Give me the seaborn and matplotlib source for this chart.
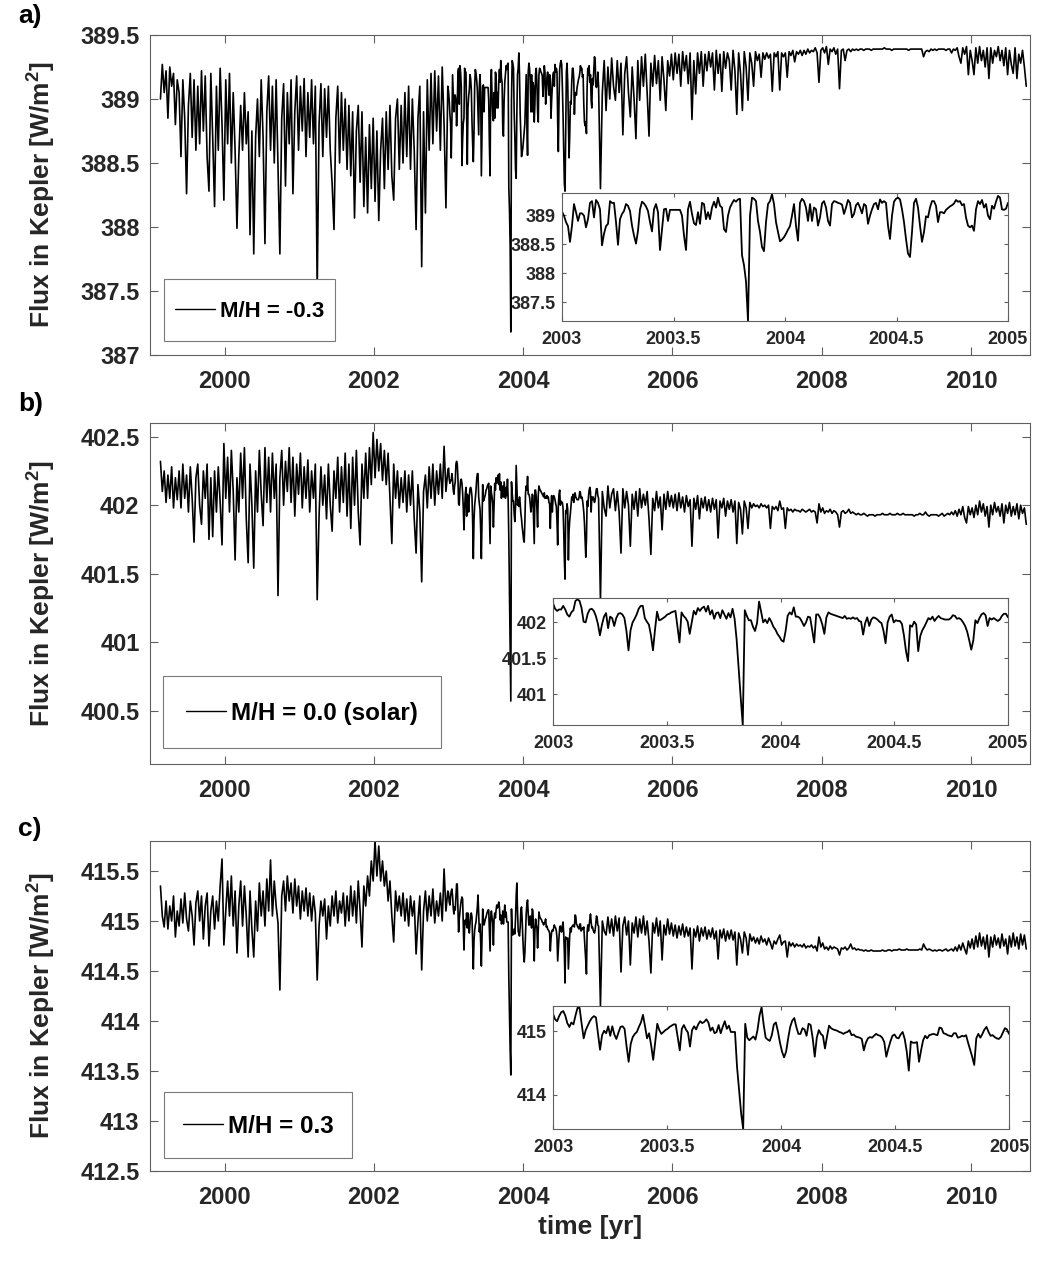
import numpy as np
import seaborn as sns
import matplotlib
matplotlib.use("Agg")
import matplotlib.pyplot as plt
from matplotlib.ticker import FuncFormatter

#### Flux values (W/m^2)
# each series = early part (1999.14-2002.99), zoomed part (2003-2005), late part (2005.01-2010.74)

# a) M/H = -0.3
a_early = [389.00, 389.27, 389.05, 389.22, 388.85, 389.25, 389.10, 389.20, 388.80, 389.15,
           389.05, 388.55, 389.15, 388.85, 388.26, 388.95, 389.20, 388.70, 389.15, 388.60,
           389.10, 388.65, 389.22, 388.75, 389.18, 388.55, 388.28, 389.20, 388.70, 388.16,
           389.10, 388.60, 389.24, 388.80, 388.21, 389.15, 388.65, 389.20, 388.50, 389.05,
           388.60, 387.99, 388.55, 388.95, 388.60, 389.05, 388.65, 388.90, 387.94, 388.75,
           387.79, 388.70, 389.00, 388.55, 389.15, 388.70, 387.87, 388.90, 389.18, 388.60,
           389.10, 388.50, 389.15, 388.45, 387.79, 388.85, 389.12, 388.32, 389.05, 388.65,
           389.15, 388.26, 388.90, 389.18, 388.60, 389.10, 388.75, 389.16, 388.55, 389.05,
           388.70, 389.15, 388.65, 389.10, 387.50, 388.80, 389.12, 388.55, 389.08, 388.70,
           389.10, 388.60, 388.34, 387.98, 388.85, 389.10, 388.50, 389.05, 388.60, 389.00,
           388.45, 388.95, 388.40, 388.90, 388.07, 388.75, 388.95, 388.35, 388.90, 388.16,
           388.70, 388.11, 388.80, 388.30, 388.85, 388.20, 388.75, 388.05, 388.60, 388.85,
           388.30, 388.90, 388.45, 388.95, 388.40, 388.21, 388.85, 389.00, 388.45, 388.95,
           388.50, 389.05, 388.55, 389.10, 388.45, 389.00, 388.60, 387.98, 388.85, 389.10,
           387.69, 388.90, 388.11, 389.15, 388.60, 389.20, 388.65, 389.22, 388.75, 389.18,
           388.60, 389.25, 388.80, 388.15, 389.10]
a_zoom = [389.06, 388.99, 388.88, 388.81, 388.54, 388.82, 389.19, 389.05, 388.90, 389.03,
          389.03, 388.99, 388.79, 388.93, 389.21, 389.24, 388.96, 389.26, 389.21, 389.10,
          388.48, 388.68, 388.81, 388.85, 389.24, 389.21, 389.21, 388.88, 388.49, 388.93,
          389.02, 389.07, 389.19, 389.16, 389.07, 388.82, 388.65, 388.51, 388.73, 389.10,
          389.23, 389.20, 389.15, 389.07, 388.88, 388.72, 389.10, 389.19, 389.05, 388.40,
          388.76, 389.10, 389.11, 388.90, 389.09, 389.09, 389.09, 389.09, 389.09, 389.09,
          388.99, 388.65, 388.40, 389.10, 389.23, 389.02, 388.86, 388.83, 389.05, 388.85,
          389.21, 389.19, 388.93, 389.05, 388.93, 389.13, 389.23, 389.13, 389.30, 389.16,
          389.13, 388.76, 388.71, 388.99, 389.13, 389.20, 389.26, 389.23, 389.27, 389.28,
          388.31, 388.14, 387.86, 387.18, 388.99, 389.30, 389.28, 389.24, 388.90, 388.71,
          388.45, 388.38, 388.88, 389.19, 389.24, 389.36, 389.19, 388.88, 388.71, 388.55,
          388.58, 388.62, 388.68, 388.75, 388.81, 388.99, 389.19, 388.82, 388.56, 389.21,
          389.28, 389.24, 389.13, 388.90, 389.19, 388.90, 389.13, 389.10, 388.82, 388.96,
          389.20, 389.24, 389.13, 388.90, 388.82, 389.19, 389.24, 389.23, 389.21, 389.20,
          389.18, 389.02, 389.13, 389.26, 389.21, 388.96, 389.02, 389.17, 389.21, 389.13,
          389.03, 389.19, 389.16, 388.85, 388.99, 389.10, 389.19, 389.21, 389.10, 389.27,
          389.21, 389.24, 389.21, 388.82, 388.59, 388.99, 389.23, 389.28, 389.30, 389.27,
          389.10, 388.88, 388.59, 388.34, 388.28, 388.71, 389.21, 389.28, 389.13, 388.82,
          388.54, 388.71, 388.98, 388.96, 389.13, 389.24, 389.24, 389.16, 388.88, 389.05,
          389.05, 389.03, 389.09, 389.12, 389.15, 389.17, 389.20, 389.26, 389.23, 389.24,
          389.17, 389.19, 388.96, 388.82, 388.79, 388.82, 388.73, 389.10, 389.24, 389.19,
          389.26, 389.13, 389.19, 388.99, 388.93, 389.16, 389.11, 389.23, 389.33, 389.30,
          389.10, 389.09, 389.11, 389.21]
a_late = [389.10, 388.30, 389.05, 389.30, 388.91, 389.25, 389.00, 389.32, 389.10, 388.99,
          389.30, 389.05, 389.28, 388.72, 389.20, 389.33, 389.05, 388.86, 389.25, 389.00,
          388.69, 389.30, 388.99, 389.33, 389.10, 389.35, 389.05, 388.71, 389.28, 389.10,
          389.34, 389.12, 389.30, 388.99, 389.33, 389.15, 388.91, 389.30, 389.18, 389.35,
          389.15, 389.36, 389.20, 389.35, 389.10, 389.37, 389.22, 389.34, 389.12, 389.36,
          388.84, 389.30, 389.04, 389.36, 389.20, 389.37, 389.10, 389.35, 389.22, 389.37,
          389.25, 389.36, 389.07, 389.38, 389.20, 389.35, 389.06, 389.37, 389.24, 389.36,
          389.30, 389.07, 389.38, 389.22, 388.88, 389.36, 389.20, 388.91, 389.37, 389.25,
          388.99, 389.36, 389.28, 389.10, 389.37, 389.30, 389.35, 389.17, 389.36, 389.31,
          389.36, 389.32, 389.35, 389.06, 389.36, 389.33, 389.37, 389.07, 389.36, 389.33,
          389.36, 389.17, 389.37, 389.34, 389.38, 389.29, 389.37, 389.35, 389.38, 389.34,
          389.38, 389.35, 389.39, 389.36, 389.38, 389.37, 389.40, 389.36, 389.13, 389.38,
          389.40, 389.36, 389.41, 389.27, 389.39, 389.37, 389.40, 389.35, 389.39, 389.08,
          389.38, 389.39, 389.30, 389.38, 389.39, 389.37, 389.39, 389.38, 389.39, 389.38,
          389.39, 389.39, 389.38, 389.39, 389.39, 389.39, 389.38, 389.39, 389.39, 389.39,
          389.39, 389.39, 389.39, 389.40, 389.39, 389.39, 389.39, 389.38, 389.39, 389.39,
          389.39, 389.39, 389.39, 389.39, 389.39, 389.39, 389.38, 389.39, 389.39, 389.39,
          389.39, 389.39, 389.39, 389.39, 389.33, 389.37, 389.38, 389.37, 389.39, 389.38,
          389.39, 389.38, 389.39, 389.39, 389.39, 389.39, 389.38, 389.39, 389.39, 389.36,
          389.39, 389.38, 389.40, 389.33, 389.28, 389.40, 389.35, 389.41, 389.19, 389.38,
          389.30, 389.19, 389.40, 389.28, 389.41, 389.30, 389.38, 389.25, 389.40, 389.16,
          389.40, 389.28, 389.38, 389.33, 389.41, 389.30, 389.38, 389.26, 389.40, 389.19,
          389.38, 389.27, 389.20, 389.40, 389.16, 389.35, 389.28, 389.38, 389.25, 389.10]

# b) M/H = 0.0 (solar)
b_early = [402.32, 402.10, 402.25, 402.02, 402.22, 402.05, 402.28, 401.98, 402.20, 402.04,
           402.25, 401.98, 402.30, 402.05, 402.22, 401.95, 402.28, 402.05, 401.73, 402.20,
           402.30, 402.00, 401.86, 402.25, 402.05, 402.30, 401.75, 402.20, 401.77, 402.25,
           401.95, 402.28, 402.02, 401.71, 402.45, 402.05, 402.35, 401.95, 402.40, 402.10,
           401.60, 402.20, 401.95, 402.38, 402.05, 402.42, 401.90, 401.58, 402.30, 402.00,
           401.54, 402.25, 401.95, 402.40, 402.08, 401.85, 402.42, 402.02, 402.35, 401.95,
           402.38, 402.05, 402.30, 401.34, 402.20, 402.40, 402.00, 402.32, 402.10, 402.42,
           402.02, 402.35, 401.92, 402.30, 402.08, 402.38, 401.98, 402.28, 402.05, 402.33,
           401.95, 402.25, 402.05, 402.30, 401.31, 401.92, 402.28, 402.00, 402.22, 401.90,
           402.30, 402.00, 401.81, 402.25, 402.05, 402.35, 401.95, 402.28, 402.02, 402.38,
           401.92, 402.30, 401.83, 402.35, 402.00, 402.40, 401.95, 401.71, 402.30, 402.05,
           402.38, 402.05, 402.42, 402.15, 402.53, 402.20, 402.48, 402.25, 402.45, 402.18,
           402.40, 402.15, 402.38, 402.05, 401.72, 402.30, 402.05, 402.25, 401.98, 402.20,
           402.02, 402.25, 401.95, 402.22, 402.00, 402.25, 401.90, 401.65, 402.15, 401.95,
           401.44, 402.10, 402.22, 401.98, 402.28, 402.05, 402.30, 402.00, 402.25, 402.08,
           402.30, 402.05, 402.43, 402.10, 402.25]
b_zoom = [402.27, 402.19, 402.16, 402.18, 402.18, 402.23, 402.18, 402.11, 402.08, 402.14,
          402.17, 402.30, 402.32, 402.30, 402.20, 402.01, 402.00, 402.12, 402.18, 402.19,
          402.16, 402.09, 401.98, 401.82, 401.97, 402.08, 402.13, 401.92, 402.08, 402.06,
          401.95, 402.06, 402.12, 402.13, 402.11, 402.06, 401.88, 401.61, 401.89, 402.00,
          402.05, 402.11, 402.19, 402.23, 402.23, 402.06, 402.01, 401.97, 401.82, 401.61,
          401.90, 402.15, 402.03, 402.04, 402.06, 402.08, 402.11, 402.12, 402.14, 402.15,
          402.16, 401.94, 401.72, 402.14, 402.09, 402.06, 402.01, 401.84, 402.00, 402.16,
          402.11, 402.20, 402.16, 402.20, 402.22, 402.15, 402.23, 402.11, 402.17, 402.05,
          402.13, 402.14, 402.06, 402.17, 402.11, 402.05, 402.13, 402.07, 402.19, 402.05,
          401.76, 401.35, 400.95, 400.57, 402.17, 402.09, 402.03, 402.03, 401.94, 401.88,
          401.99, 402.29, 402.15, 402.00, 402.04, 401.99, 402.06, 402.01, 401.94, 401.90,
          401.84, 401.80, 401.75, 401.73, 401.88, 402.09, 402.14, 402.11, 402.21, 402.08,
          402.08, 402.06, 402.01, 401.95, 402.00, 402.08, 402.07, 401.90, 401.72, 402.11,
          402.11, 402.06, 401.97, 401.84, 402.07, 402.14, 402.12, 402.11, 402.10, 402.09,
          402.08, 402.07, 402.06, 402.09, 402.05, 402.06, 402.05, 402.07, 402.05, 402.06,
          402.02, 402.01, 401.83, 401.99, 402.07, 401.95, 402.04, 402.07, 402.06, 402.04,
          402.01, 401.99, 401.88, 401.71, 402.00, 402.08, 402.11, 402.00, 402.03, 402.02,
          402.02, 401.98, 401.82, 401.60, 401.46, 401.96, 401.94, 402.01, 401.97, 401.60,
          401.81, 401.89, 401.94, 402.00, 402.06, 402.04, 402.08, 402.02, 402.06, 402.09,
          402.06, 402.05, 402.04, 402.04, 402.04, 402.06, 402.10, 402.09, 402.05, 402.06,
          402.04, 402.00, 401.95, 401.87, 401.75, 401.62, 401.75, 402.03, 401.99, 402.06,
          402.11, 402.13, 402.10, 401.95, 402.06, 402.04, 402.06, 402.04, 402.02, 402.04,
          402.09, 402.12, 402.12, 402.07]
b_late = [402.05, 401.30, 402.10, 401.98, 401.92, 402.14, 401.98, 402.08, 402.12, 401.96,
          402.10, 401.95, 401.65, 402.12, 401.98, 402.10, 402.00, 401.70, 402.08, 401.97,
          402.10, 401.92, 402.12, 401.98, 402.08, 402.00, 402.10, 401.90, 401.64, 402.05,
          401.96, 402.10, 401.98, 402.06, 401.82, 402.08, 401.97, 402.10, 401.99, 402.07,
          401.98, 402.08, 401.96, 402.09, 401.98, 402.06, 401.95, 402.07, 401.99, 402.04,
          401.70, 402.05, 401.97, 402.07, 401.90, 402.05, 401.98, 402.06, 401.96, 402.04,
          401.95, 402.05, 401.97, 402.04, 401.76, 402.03, 401.98, 402.05, 401.92, 402.03,
          401.97, 402.04, 401.95, 402.03, 401.72, 402.02, 401.97, 401.79, 402.03, 401.98,
          401.83, 402.02, 401.98, 402.01, 401.99, 402.00, 401.98, 402.01, 401.99, 402.00,
          401.98, 402.00, 401.83, 401.99, 401.97, 401.99, 401.96, 402.03, 401.97, 401.98,
          401.83, 401.98, 401.96, 401.97, 401.95, 401.97, 401.96, 401.96, 401.95, 401.97,
          401.96, 401.95, 401.96, 401.97, 401.95, 401.96, 401.95, 401.87, 402.01, 401.95,
          401.98, 401.94, 401.96, 401.95, 401.97, 401.94, 401.96, 401.95, 401.93, 401.84,
          401.95, 401.96, 401.94, 401.95, 401.97, 401.94, 401.95, 401.94, 401.93, 401.94,
          401.93, 401.93, 401.94, 401.93, 401.92, 401.93, 401.93, 401.93, 401.92, 401.93,
          401.93, 401.93, 401.94, 401.93, 401.93, 401.93, 401.94, 401.93, 401.93, 401.93,
          401.94, 401.93, 401.93, 401.94, 401.93, 401.93, 401.93, 401.93, 401.93, 401.92,
          401.93, 401.93, 401.94, 401.93, 401.93, 401.95, 401.93, 401.92, 401.93, 401.93,
          401.93, 401.93, 401.92, 401.93, 401.94, 401.92, 401.93, 401.94, 401.93, 401.95,
          401.93, 401.96, 401.92, 401.97, 401.93, 401.99, 401.91, 401.87, 401.99, 401.93,
          401.98, 401.91, 402.00, 401.93, 402.03, 401.95, 402.01, 401.92, 401.99, 401.84,
          402.00, 401.93, 402.02, 401.95, 401.99, 401.92, 402.01, 401.87, 402.00, 401.94,
          402.02, 401.92, 401.99, 401.93, 402.01, 401.90, 402.00, 401.94, 401.98, 401.86]

# c) M/H = 0.3
c_early = [415.35, 415.05, 414.94, 415.20, 414.92, 415.15, 415.00, 415.25, 414.84, 415.10,
           414.95, 415.22, 414.98, 415.28, 415.02, 414.90, 415.20, 415.05, 414.76, 415.18,
           415.30, 415.00, 415.25, 414.82, 415.15, 415.28, 414.75, 415.10, 415.25, 414.92,
           415.20, 415.00, 415.35, 415.62, 414.76, 415.10, 415.40, 415.05, 415.45, 414.95,
           415.30, 414.68, 415.15, 415.40, 414.95, 415.35, 415.05, 414.64, 415.30, 414.92,
           414.64, 415.20, 414.90, 415.38, 415.05, 415.30, 414.95, 415.42, 415.10, 415.61,
           415.05, 415.40, 415.15, 414.98, 414.31, 415.25, 415.40, 415.10, 415.45, 415.20,
           415.38, 415.08, 415.42, 415.15, 415.35, 415.02, 415.30, 415.10, 415.33, 415.05,
           415.28, 415.00, 415.25, 415.08, 414.41, 414.95, 415.20, 415.05, 415.22, 414.82,
           415.15, 414.95, 415.25, 415.05, 415.30, 414.98, 415.20, 415.08, 415.28, 414.95,
           415.25, 415.00, 415.35, 415.05, 415.30, 414.98, 415.40, 415.10, 414.74, 415.35,
           415.15, 415.45, 415.25, 415.60, 415.40, 415.80, 415.45, 415.75, 415.40, 415.60,
           415.35, 415.50, 415.20, 415.40, 415.05, 414.79, 415.30, 415.10, 415.25, 415.05,
           415.28, 415.00, 415.22, 414.95, 415.25, 415.05, 415.20, 414.67, 415.00, 415.25,
           414.51, 415.10, 415.30, 415.00, 415.25, 415.05, 415.32, 414.98, 415.20, 415.05,
           415.28, 415.00, 415.52, 415.10, 415.30]
c_zoom = [415.28, 415.19, 415.16, 415.24, 415.30, 415.32, 415.25, 415.13, 415.07, 415.14,
          415.11, 415.25, 415.37, 415.37, 415.12, 414.89, 415.02, 415.09, 415.16, 415.21,
          415.24, 415.22, 414.96, 414.71, 414.94, 415.01, 414.97, 415.08, 414.93, 415.08,
          414.95, 414.88, 414.98, 415.07, 415.08, 415.04, 414.76, 414.52, 414.80, 414.91,
          414.96, 414.99, 415.07, 415.14, 415.26, 415.08, 414.89, 414.97, 414.78, 414.55,
          414.83, 415.12, 415.02, 414.96, 414.99, 415.02, 415.04, 415.07, 415.09, 415.11,
          415.11, 414.91, 414.70, 415.04, 415.10, 415.03, 414.98, 414.76, 415.02, 415.08,
          415.03, 415.11, 415.16, 415.13, 415.15, 415.19, 415.14, 415.01, 415.06, 414.97,
          414.99, 415.10, 414.97, 415.07, 415.16, 415.04, 415.09, 414.99, 414.99, 414.99,
          414.44, 414.08, 413.71, 413.46, 415.12, 414.90, 414.86, 414.89, 414.92, 414.87,
          415.02, 415.25, 415.38, 415.11, 414.90, 414.87, 414.85, 414.94, 415.11, 415.14,
          415.00, 414.82, 414.68, 414.59, 414.68, 414.89, 415.07, 415.17, 415.21, 415.07,
          414.96, 414.96, 415.05, 415.03, 414.93, 415.12, 415.10, 414.89, 414.60, 414.90,
          415.02, 414.96, 414.93, 414.73, 414.92, 415.09, 415.05, 415.03, 415.02, 415.01,
          414.99, 414.98, 414.96, 414.98, 414.99, 415.02, 414.94, 414.95, 414.92, 414.91,
          414.90, 414.88, 414.70, 414.82, 414.89, 414.91, 414.90, 414.93, 414.96, 414.94,
          414.93, 414.90, 414.83, 414.60, 414.73, 414.84, 414.93, 414.95, 414.90, 414.89,
          414.95, 414.99, 414.88, 414.68, 414.38, 414.84, 414.82, 414.82, 414.83, 414.52,
          414.70, 414.86, 414.93, 414.89, 414.94, 414.95, 414.96, 414.95, 414.94, 415.06,
          415.05, 414.97, 414.96, 414.94, 414.93, 414.92, 414.97, 414.97, 414.90, 414.91,
          414.93, 414.92, 414.94, 414.82, 414.71, 414.60, 414.47, 414.89, 414.96, 414.90,
          414.96, 415.03, 415.07, 414.99, 414.93, 414.94, 414.91, 414.89, 414.88, 414.91,
          414.98, 415.05, 415.03, 414.96]
c_late = [414.95, 414.15, 415.00, 414.90, 414.86, 415.04, 414.88, 415.02, 414.85, 415.05,
          414.90, 415.03, 414.49, 414.95, 415.04, 414.86, 415.00, 414.56, 414.98, 414.88,
          415.04, 414.84, 415.02, 414.88, 415.05, 414.86, 415.00, 414.80, 414.48, 414.98,
          414.88, 415.03, 414.85, 415.00, 414.61, 414.96, 414.86, 415.02, 414.87, 414.98,
          414.85, 414.96, 414.83, 414.95, 414.86, 414.97, 414.84, 414.94, 414.85, 414.93,
          414.52, 414.92, 414.84, 414.95, 414.80, 414.93, 414.85, 414.94, 414.82, 414.91,
          414.84, 414.93, 414.82, 414.90, 414.62, 414.91, 414.83, 414.92, 414.80, 414.90,
          414.82, 414.91, 414.81, 414.89, 414.56, 414.88, 414.82, 414.68, 414.89, 414.83,
          414.66, 414.87, 414.80, 414.84, 414.78, 414.83, 414.77, 414.85, 414.79, 414.82,
          414.76, 414.83, 414.78, 414.72, 414.80, 414.77, 414.82, 414.86, 414.76, 414.79,
          414.80, 414.64, 414.79, 414.75, 414.78, 414.74, 414.77, 414.75, 414.76, 414.74,
          414.77, 414.73, 414.75, 414.74, 414.76, 414.73, 414.75, 414.70, 414.84, 414.74,
          414.78, 414.72, 414.74, 414.71, 414.75, 414.72, 414.74, 414.73, 414.72, 414.66,
          414.73, 414.72, 414.74, 414.71, 414.73, 414.77, 414.72, 414.73, 414.71, 414.72,
          414.71, 414.71, 414.70, 414.71, 414.70, 414.70, 414.71, 414.70, 414.70, 414.70,
          414.70, 414.70, 414.71, 414.70, 414.70, 414.71, 414.71, 414.70, 414.71, 414.71,
          414.71, 414.72, 414.71, 414.71, 414.71, 414.72, 414.71, 414.71, 414.71, 414.71,
          414.71, 414.71, 414.72, 414.71, 414.77, 414.73, 414.71, 414.72, 414.71, 414.70,
          414.71, 414.70, 414.71, 414.71, 414.70, 414.71, 414.72, 414.70, 414.71, 414.72,
          414.70, 414.74, 414.70, 414.76, 414.71, 414.78, 414.72, 414.67, 414.80, 414.73,
          414.82, 414.72, 414.85, 414.74, 414.88, 414.75, 414.84, 414.72, 414.86, 414.64,
          414.84, 414.74, 414.86, 414.76, 414.83, 414.73, 414.87, 414.75, 414.82, 414.67,
          414.85, 414.74, 414.88, 414.75, 414.84, 414.72, 414.87, 414.76, 414.86, 414.72]

# time grids (decimal years)
t_early = np.linspace(1999.14, 2002.99, len(a_early))
t_zoom = np.linspace(2003.0, 2005.0, len(a_zoom))
t_late = np.linspace(2005.01, 2010.74, len(a_late))
t_all = np.concatenate([t_early, t_zoom, t_late])

labels = ['M/H = -0.3', 'M/H = 0.0 (solar)', 'M/H = 0.3']
tags = ['a)', 'b)', 'c)']
main_yticks = [[387, 387.5, 388, 388.5, 389, 389.5],
               [400.5, 401, 401.5, 402, 402.5],
               [412.5, 413, 413.5, 414, 414.5, 415, 415.5]]
inset_yticks = [[387.5, 388, 388.5, 389], [401, 401.5, 402], [414, 415]]
main_ylim = [(387.0, 389.5), (400.11, 402.60), (412.5, 415.8)]
year_ticks = [2000, 2002, 2004, 2006, 2008, 2010]
zoom_ticks = [2003, 2003.5, 2004, 2004.5, 2005]

## Plotting
sns.set_style("ticks")
plt.rcParams['font.family'] = ['Liberation Sans', 'DejaVu Sans']
plt.rcParams['font.weight'] = 'bold'
plt.rcParams['axes.labelweight'] = 'bold'
plt.rcParams['mathtext.fontset'] = 'custom'
plt.rcParams['mathtext.rm'] = 'Liberation Sans:bold'
plt.rcParams['mathtext.bf'] = 'Liberation Sans:bold'

W, H = 1052, 1263
fig = plt.figure(figsize=(W / 100, H / 100), dpi=100)

def rect(left, top, right, bottom):
    # pixel box -> figure fraction
    return [left / W, 1 - bottom / H, (right - left) / W, (bottom - top) / H]

main_boxes = [(150, 35, 1030, 355), (150, 423, 1030, 764), (150, 841, 1030, 1171)]
inset_boxes = [(562, 193, 1008, 321), (553, 598, 1008, 725), (553, 1006, 1009, 1129)]
tag_y = [16, 404, 829]
# legend box settings per panel
leg_anchor = [(0.016, 0.044), (0.015, 0.047), (0.016, 0.039)]
leg_fs = [16, 17.5, 17.5]
leg_pad = [0.5, 0.93, 0.76]
leg_hh = [2.4, 1.33, 1.46]
leg_hl = [1.8, 1.65, 1.65]

fmt = FuncFormatter(lambda v, p: f'{v:g}')
edge = '#5f5f5f'
txt = '#262626'

def style_axes(ax, size, length, padx, pady):
    for s in ax.spines.values():
        s.set_color(edge)
        s.set_linewidth(0.8)
    ax.tick_params(direction='in', top=True, right=True, length=length, width=0.8,
                   color=edge, labelsize=size, labelcolor=txt)
    ax.tick_params(axis='x', pad=padx)
    ax.tick_params(axis='y', pad=pady)
    ax.xaxis.set_major_formatter(fmt)
    ax.yaxis.set_major_formatter(fmt)

series = [(a_early, a_zoom, a_late), (b_early, b_zoom, b_late), (c_early, c_zoom, c_late)]

for i, (early, zoom, late) in enumerate(series):
    flux = np.concatenate([early, zoom, late])
    ax = fig.add_axes(rect(*main_boxes[i]))
    sns.lineplot(x=t_all, y=flux, ax=ax, color='black', linewidth=1.2,
                 estimator=None, sort=False, label=labels[i])
    ax.set_xlim(1999.0, 2010.79)
    ax.set_ylim(*main_ylim[i])
    ax.set_xticks(year_ticks)
    ax.set_yticks(main_yticks[i])
    style_axes(ax, 17, 6, 10.5, 7.5)
    ax.set_ylabel(r'Flux in Kepler [W/m$^{2}$]', fontsize=19, color=txt)
    ax.yaxis.set_label_coords(-0.106, 0.5)
    ax.set_xlabel('')
    leg = ax.legend(loc='lower left', bbox_to_anchor=leg_anchor[i], borderaxespad=0,
                    fontsize=leg_fs[i], frameon=True, fancybox=False, framealpha=1,
                    edgecolor='#7a7a7a', borderpad=leg_pad[i], handlelength=leg_hl[i],
                    handletextpad=0.22, handleheight=leg_hh[i])
    leg.get_frame().set_linewidth(0.8)
    for h in leg.get_lines():
        h.set_linewidth(1.0)
        # keep the sample line level with the middle of the text
        h.set_ydata(np.full_like(np.asarray(h.get_ydata(), dtype=float), 0.36 * leg_fs[i]))
    for t in leg.get_texts():
        t.set_color('black')
    if i == 2:
        ax.set_xlabel('time [yr]', fontsize=19, color=txt)
        ax.xaxis.set_label_coords(0.5, -0.133)

    # zoom on 2003-2005
    ins = fig.add_axes(rect(*inset_boxes[i]))
    ins.set_facecolor('white')
    sns.lineplot(x=t_zoom, y=np.array(zoom), ax=ins, color='black', linewidth=1.3,
                 estimator=None, sort=False, legend=False)
    ins.set_xlim(2003, 2005)
    ins.set_ylim(min(zoom), max(zoom) + 0.02)
    ins.set_xticks(zoom_ticks)
    ins.set_yticks(inset_yticks[i])
    style_axes(ins, 13, 3, 7.5, 4.5)
    ins.set_xlabel('')
    ins.set_ylabel('')

    fig.text(18 / W, 1 - tag_y[i] / H, tags[i], fontsize=19, fontweight='bold',
             ha='left', va='center', color='black')

fig.savefig('out.png', dpi=100)
